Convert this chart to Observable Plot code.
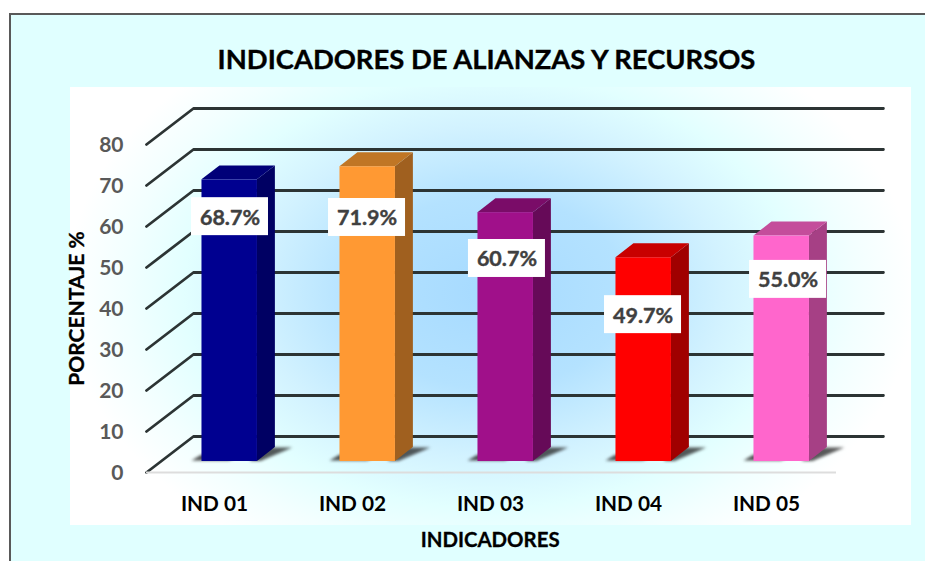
<!DOCTYPE html>
<html>
<head>
<meta charset="utf-8">
<script src="https://cdn.jsdelivr.net/npm/d3@7"></script>
<script src="https://cdn.jsdelivr.net/npm/@observablehq/plot@0.6"></script>
<style>
  html, body { margin: 0; padding: 0; width: 925px; height: 561px; overflow: hidden; background: #fff; }
  #frame { position: absolute; left: 9px; top: 13px; width: 925px; height: 560px; border-left: 2px solid #595959; border-top: 2px solid #595959; background: #e0ffff; }
  #panel { position: absolute; left: 70px; top: 87px; width: 841px; height: 438px;
    background: radial-gradient(ellipse 425px 300px at 420px 205px, #a6daff 0%, #b4e2ff 32%, #d2f2ff 55%, #e2ffff 72%, #f2ffff 86%, #ffffff 100%); }
  #title { position: absolute; left: 0; width: 973px; top: 42px; text-align: center; font: bold 27.4px Lato, sans-serif; color: #000; white-space: nowrap; -webkit-text-stroke: 0.35px #000; }
  #chart { position: absolute; left: 0; top: 0; }
</style>
</head>
<body>
<div id="frame"></div>
<div id="panel"></div>
<div id="title">INDICADORES DE ALIANZAS Y RECURSOS</div>
<div id="chart"></div>
<script>
// Data
const indicators = ["IND 01", "IND 02", "IND 03", "IND 04", "IND 05"];
const percentages = [68.7, 71.9, 60.7, 49.7, 55.0];
const yTicks = [0, 10, 20, 30, 40, 50, 60, 70, 80];

// Colours
const frontColors = ["#000090", "#ff9933", "#a0108a", "#ff0000", "#ff66cc"];
const sideColors = ["#000063", "#a0601f", "#660a58", "#a00000", "#a64085"];
const topColors = ["#000078", "#c07625", "#7a0c68", "#c80000", "#c44d9b"];

// Hand-placed label anchors (slot units, percent units)
const labelSlots = [0.605, 1.598, 2.612, 3.598, 4.649];
const labelLevels = [62.4, 62.2, 52.2, 38.5, 47.1];

// 3D projection in data units
const wallDx = 0.34, wallDy = 8.78;       // floor depth
const baseDx = 0.402, baseDy = 2.68;      // bar's offset on the floor
const barW = 0.402, barDx = 0.13, barDy = 3.4; // bar width and depth
const boxW = 0.279, boxH = 4.63;

const grid = yTicks.flatMap(t => [
  {t, x: 0, y: t},
  {t, x: wallDx, y: t + wallDy},
  {t, x: indicators.length + wallDx, y: t + wallDy}
]);

const bars = percentages.map((v, i) => ({
  i, v,
  x1: i + baseDx,
  x2: i + baseDx + barW,
  y1: baseDy,
  y2: baseDy + v
}));

const barMarks = bars.flatMap(b => [
  // soft shadow left of the bar
  Plot.areaX([
    {x1: b.i + 0.33, x2: b.i + 0.60, y: baseDy + 0.1},
    {x1: b.i + 0.40, x2: b.i + 0.70, y: baseDy + 1.5}
  ], {x1: "x1", x2: "x2", y: "y", fill: "#333", fillOpacity: 0.85, imageFilter: "blur(1.6px)"}),
  // darker wedge right of the bar
  Plot.areaX([
    {x1: b.i + 0.75, x2: b.i + 0.83, y: baseDy},
    {x1: b.i + 0.88, x2: b.i + 1.06, y: baseDy + 3.3}
  ], {x1: "x1", x2: "x2", y: "y", fill: "#222", fillOpacity: 0.75, imageFilter: "blur(1.8px)"}),
  // side face
  Plot.areaY([
    {x: b.x2, y1: b.y1, y2: b.y2},
    {x: b.x2 + barDx, y1: b.y1 + barDy, y2: b.y2 + barDy}
  ], {x: "x", y1: "y1", y2: "y2", fill: sideColors[b.i], imageFilter: "blur(0.5px)"}),
  // top face
  Plot.areaX([
    {x1: b.x1, x2: b.x2, y: b.y2},
    {x1: b.x1 + barDx, x2: b.x2 + barDx, y: b.y2 + barDy}
  ], {x1: "x1", x2: "x2", y: "y", fill: topColors[b.i], imageFilter: "blur(0.5px)"}),
  // front face
  Plot.rect([b], {x1: "x1", x2: "x2", y1: "y1", y2: "y2", fill: frontColors[b.i], imageFilter: "blur(0.5px)"})
]);

const labels = percentages.map((v, i) => ({
  x: labelSlots[i], y: labelLevels[i], text: v.toFixed(1) + "%"
}));

const font = "Lato, sans-serif";

const plot = Plot.plot({
  width: 925,
  height: 561,
  marginLeft: 146,
  marginRight: 89,
  marginTop: 144,
  marginBottom: 89,
  style: {background: "transparent", fontFamily: font},
  x: {domain: [0, indicators.length]},
  y: {domain: [0, 80]},
  marks: [
    // walls: one polyline per tick
    Plot.line(grid, {x: "x", y: "y", z: "t", stroke: "#2c3434", strokeWidth: 2.8, imageFilter: "blur(0.6px)"}),
    // front floor edge
    Plot.ruleY([0], {x1: 0, x2: indicators.length, stroke: "#dddddd", strokeWidth: 2.2}),
    ...barMarks,
    Plot.rect(labels, {
      x1: d => d.x - boxW, x2: d => d.x + boxW,
      y1: d => d.y - boxH, y2: d => d.y + boxH,
      fill: "white"
    }),
    Plot.text(labels, {x: "x", y: "y", text: "text", dy: 1, fill: "#404040", stroke: "#404040", strokeWidth: 0.4, fontSize: 21.5, fontWeight: "bold"}),
    Plot.axisY({
      ticks: yTicks, tickSize: 0, tickPadding: 23, label: null,
      fontSize: 21, fontWeight: "bold", fill: "#595959", stroke: "#595959", strokeWidth: 0.4, dy: 1
    }),
    Plot.axisX({
      ticks: indicators.map((_, i) => i + 0.5),
      tickFormat: x => indicators[Math.floor(x)],
      tickSize: 0, tickPadding: 24, label: null,
      fontSize: 20.8, fontWeight: "bold", fill: "#000", stroke: "#000", strokeWidth: 0.3, dx: -1
    }),
    Plot.text(["PORCENTAJE %"], {
      x: -0.5, y: 40, text: d => d, rotate: -90,
      fill: "#000", stroke: "#000", strokeWidth: 0.3, fontSize: 21, fontWeight: "bold"
    }),
    Plot.text(["INDICADORES"], {
      x: 2.49, y: -16.6, text: d => d,
      fill: "#000", stroke: "#000", strokeWidth: 0.3, fontSize: 20.4, fontWeight: "bold"
    })
  ]
});
document.getElementById("chart").append(plot);
</script>
</body>
</html>
